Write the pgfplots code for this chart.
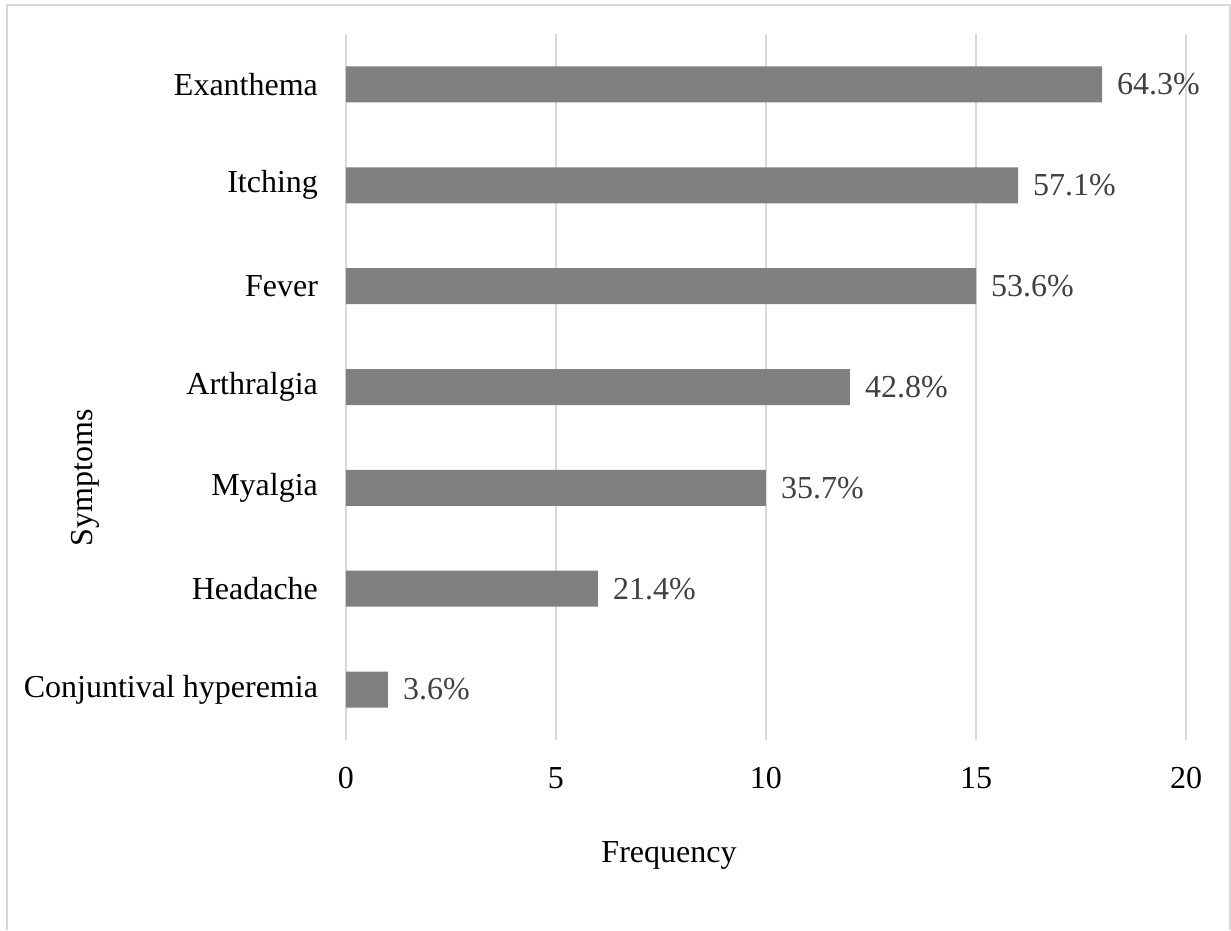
\documentclass[border=0pt]{standalone}
\usepackage{fontspec}
\setmainfont{Liberation Serif}
\usepackage{pgfplots}
\usepackage{pgfplotstable}
\pgfplotsset{compat=1.18}
\definecolor{gridgray}{HTML}{D9D9D9}
\definecolor{bargray}{HTML}{808080}
\definecolor{labelgray}{HTML}{404040}

\pgfplotstableread[col sep=comma]{
pos,freq,pct
0,1,3.6\%
1,6,21.4\%
2,10,35.7\%
3,12,42.8\%
4,15,53.6\%
5,16,57.1\%
6,18,64.3\%
}\symptoms

\begin{document}
\begin{tikzpicture}
\begin{axis}[
  at={(0,0)}, anchor=south west,
  scale only axis,
  width=420pt, height=353pt,
  xbar, bar width=18pt,
  xmin=0, xmax=20,
  ymin=-0.5, ymax=6.5,
  xtick={0,5,10,15,20},
  ytick={0,1,2,3,4,5,6},
  yticklabels={Conjuntival hyperemia,Headache,Myalgia,Arthralgia,Fever,Itching,Exanthema},
  xmajorgrids,
  grid style={gridgray, line width=0.75pt},
  axis line style={draw=none},
  major tick length=0pt,
  tick style={draw=none},
  /pgf/number format/assume math mode=true,
  ticklabel style={font=\fontsize{16}{19}\selectfont, black},
  xticklabel style={yshift=-10pt},
  yticklabel style={xshift=-10.5pt},
  nodes near coords,
  point meta=explicit symbolic,
  nodes near coords style={font=\fontsize{16}{19}\selectfont, text=labelgray, anchor=west, xshift=4pt},
  clip=false,
]
\addplot[fill=bargray, draw=none] table[x=freq, y=pos, meta=pct] {\symptoms};
\end{axis}
\node[font=\fontsize{16}{19}\selectfont, anchor=base] at (161.5pt,-61pt) {Frequency};
\node[font=\fontsize{16}{19}\selectfont, rotate=90, anchor=base] at (-126.5pt,131pt) {Symptoms};
% chart frame (open at the bottom)
\draw[gridgray, line width=1pt] (-169.5pt,-95pt) -- (-169.5pt,367.5pt) -- (442pt,367.5pt) -- (442pt,-95pt);
\useasboundingbox (-173pt,-90.5pt) rectangle (442.5pt,370pt);
\end{tikzpicture}
\end{document}
